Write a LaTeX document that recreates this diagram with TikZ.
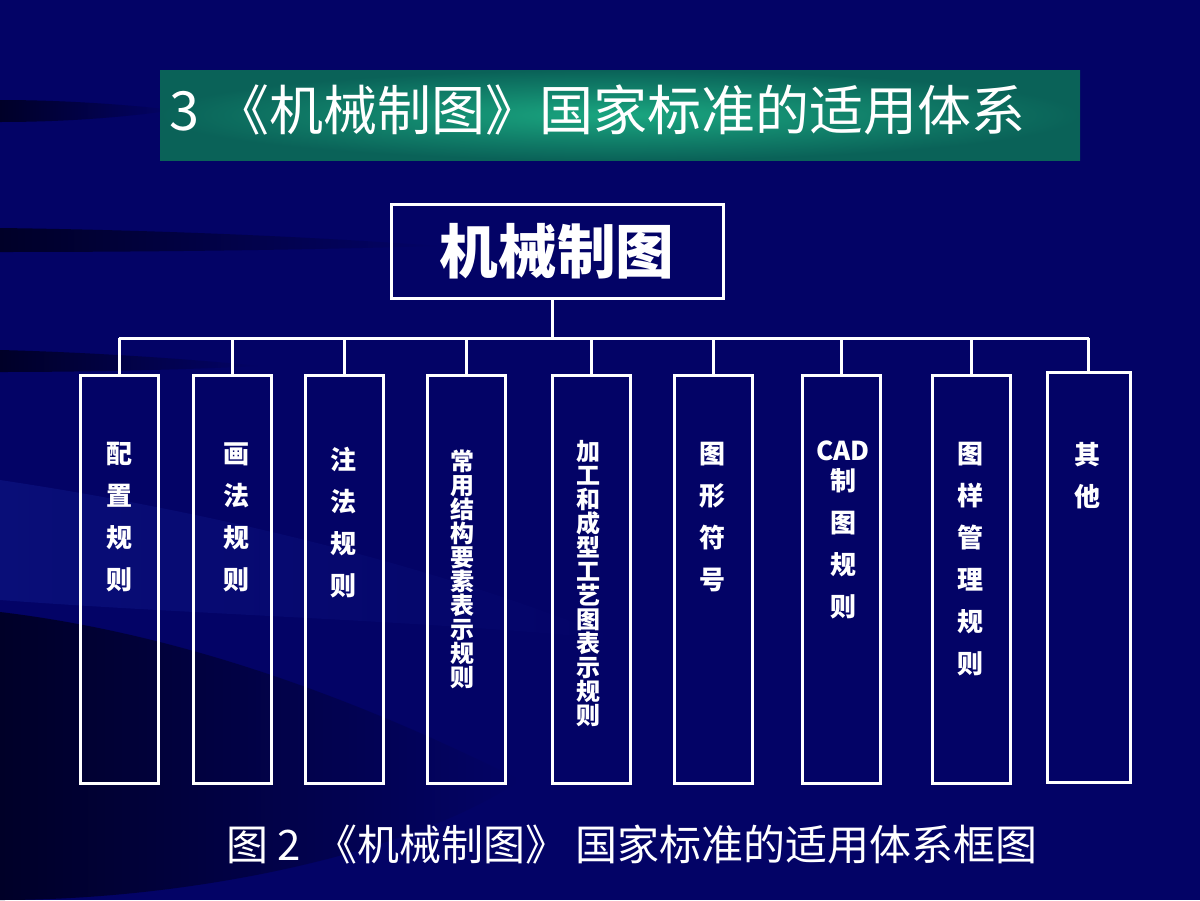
\documentclass[tikz,border=0pt]{standalone}
\usepackage{fontspec}
\setmainfont{Noto Sans CJK SC}
\usetikzlibrary{positioning}

\definecolor{slidebg}{RGB}{3,3,102}
\definecolor{streak}{RGB}{0,0,40}
\definecolor{glow}{RGB}{9,14,120}
\definecolor{barmid}{RGB}{26,166,128}
\definecolor{baredge}{RGB}{10,98,88}

\tikzset{every picture/.style={line width=0.75pt}}
\tikzset{
  frame/.style={draw=white, line width=2.25pt, rectangle, inner sep=0pt},
  leaf/.style={frame, minimum width=58.5pt, minimum height=306pt},
  link/.style={draw=white, line width=2.25pt},
  leaftext/.style={text=white, anchor=north, align=center, inner sep=0pt,
    font=\bfseries\fontsize{19.5}{31.5}\selectfont},
  longtext/.style={leaftext, font=\bfseries\fontsize{18}{18}\selectfont}
}

\begin{document}
\begin{tikzpicture}[x=0.75pt,y=0.75pt,yscale=-1,xscale=1]
        \useasboundingbox (0,0) rectangle (1200,900);

        %Shape: Background
        \fill [slidebg] (0,0) rectangle (1200,900);
        %Shape: Light band
        \shade [left color=glow, right color=slidebg] (0,480) .. controls (200,510) and (420,560) .. (620,640) .. controls (420,620) and (200,615) .. (0,600) -- cycle;
        %Shape: Dark streaks
        \shade [left color=streak, right color=slidebg] (0,100) .. controls (60,100) and (120,104) .. (175,110) .. controls (120,118) and (60,122) .. (0,122) -- cycle;
        \shade [left color=streak, right color=slidebg] (0,228) .. controls (150,230) and (300,236) .. (440,246) .. controls (300,250) and (150,252) .. (0,252) -- cycle;
        \shade [left color=streak, right color=slidebg] (0,350) .. controls (80,352) and (180,358) .. (260,366) .. controls (180,370) and (80,372) .. (0,372) -- cycle;
        \shade [left color=streak, right color=slidebg] (0,612) .. controls (150,630) and (320,680) .. (520,780) .. controls (420,850) and (200,900) .. (0,900) -- cycle;

        %Shape: Title bar
        \shade [inner color=barmid, outer color=baredge] (160,70) rectangle (1080,160);
        % Text Node
        \node [anchor=west, text=white, inner sep=0pt, font=\fontsize{40.5}{40.5}\selectfont] (title) at (169,110) {3\hspace{0.3em}《机械制图》国家标准的适用体系};

        %Shape: Root box
        \node [frame, minimum width=249pt, minimum height=70.5pt, text=white, font=\bfseries\fontsize{44}{44}\selectfont] (root) at (557,251) {\raisebox{2pt}{机械制图}};

        %Shape: Leaf boxes
        \node [leaf] (b1) at (119,579) {};
        \node [leaf] (b2) at (232.5,579) {};
        \node [leaf] (b3) at (344.5,579) {};
        \node [leaf] (b4) at (466.5,579) {};
        \node [leaf] (b5) at (591,579) {};
        \node [leaf] (b6) at (713.5,579) {};
        \node [leaf] (b7) at (841,579) {};
        \node [leaf] (b8) at (971.5,579) {};
        \node [leaf, minimum width=62.25pt, minimum height=307.5pt] (b9) at (1088.5,577) {};

        %Shape: Connectors
        \coordinate (bus) at (552,338);
        \draw [link] (root.south -| bus) -- (bus);
        \draw [link] (b1.north |- bus) -- (b9.north |- bus);
        \draw [link] (b1.north) -- (b1.north |- bus);
        \draw [link] (b2.north) -- (b2.north |- bus);
        \draw [link] (b3.north) -- (b3.north |- bus);
        \draw [link] (b4.north) -- (b4.north |- bus);
        \draw [link] (b5.north) -- (b5.north |- bus);
        \draw [link] (b6.north) -- (b6.north |- bus);
        \draw [link] (b7.north) -- (b7.north |- bus);
        \draw [link] (b8.north) -- (b8.north |- bus);
        \draw [link] (b9.north) -- (b9.north |- bus);

        % Text Node
        \node [leaftext] (t1) at (119,442) {配\\置\\规\\则};
        \node [leaftext] (t2) at (236,442) {画\\法\\规\\则};
        \node [leaftext] (t3) at (343,447) {注\\法\\规\\则};
        \node [longtext] (t4) at (462,449) {常\\用\\结\\构\\要\\素\\表\\示\\规\\则};
        \node [longtext] (t5) at (588,440) {加\\工\\和\\成\\型\\工\\艺\\图\\表\\示\\规\\则};
        \node [leaftext] (t6) at (712,442) {图\\形\\符\\号};
        \node [leaftext] (t7) at (843,440) {CAD\\[-9pt]制\\图\\规\\则};
        \node [leaftext] (t8) at (970,442) {图\\样\\管\\理\\规\\则};
        \node [leaftext] (t9) at (1087,442) {其\\他};

        % Text Node
        \node [anchor=west, text=white, inner sep=0pt, font=\fontsize{31.5}{31.5}\selectfont] (caption) at (226,845) {图 2\hspace{0.35em}《机械制图》\hspace{0.17em}国家标准的适用体系框图};
\end{tikzpicture}
\end{document}
